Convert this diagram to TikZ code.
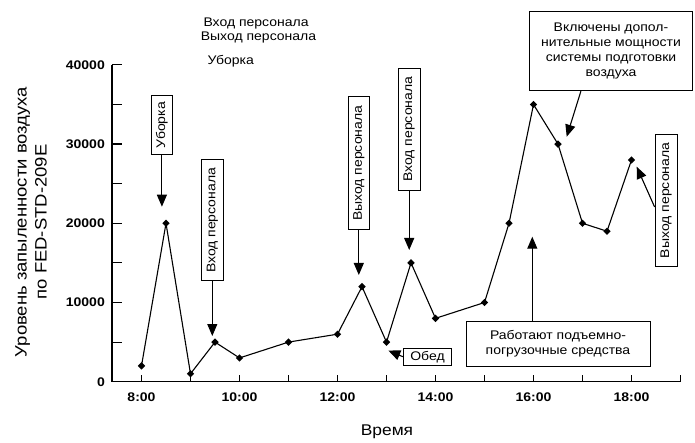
\documentclass[tikz,border=0pt]{standalone}
\usepackage{fontspec}
\setmainfont{Liberation Sans}[FakeStretch=1.12]
\usetikzlibrary{shapes.geometric,arrows.meta}
\tikzset{
  txt/.style={font=\fontsize{12.5}{15}\selectfont},
  vbox/.style={txt, draw, line width=0.9pt, fill=white, rotate=90, inner sep=0pt, minimum height=21.5pt},
  hbox/.style={txt, draw, line width=0.9pt, fill=white, align=center, inner sep=0pt},
  arr/.style={line width=1.1pt, -{Triangle[width=10pt,length=12pt]}},
  dpt/.style={diamond, fill=black, inner sep=0pt, minimum size=7.5pt},
  ticklbl/.style={font=\fontsize{12.5}{15}\selectfont\bfseries, inner sep=0pt}
}

\begin{document}
\begin{tikzpicture}[x=1pt, y=-1pt]
	\useasboundingbox (0,0) rectangle (695,443);
	% texte en haut
	\node[txt, anchor=base west] (lg1) at (200,26.7) {Вход персонала};
	\node[txt, anchor=base west] (lg2) at (197.3,40.7) {Выход персонала};
	\node[txt, anchor=base west] (lg3) at (204,65) {Уборка};
	% axes
	\node[font=\fontsize{16.5}{20}\selectfont, rotate=90, align=center] (ylab) at (31,222) {Уровень запыленности воздуха\\по FED-STD-209E};
	\node[font=\fontsize{15.5}{18}\selectfont] (xlab) at (387,432) {Время};
	\begin{scope}[shift={(141.5,381.7)}, x=49pt, y=7.92pt]
	\draw [line width=1.4pt] (-0.602,40) -- (-0.602,0) -- (11,0);
	\foreach \y in {5,10,...,40}
	\draw [line width=1.2pt] (-0.602,\y) -- ++(10pt,0);
	\foreach \x in {0,1,...,11}
	\draw [line width=1.2pt] (\x,0) -- ++(0,7pt);
	\foreach \y/\t in {0/0,10/10000,20/20000,30/30000,40/40000}
	\node[ticklbl, anchor=east, xshift=-7pt] at (-0.602,\y) {\t};
	\foreach \x/\t in {0/8:00,2/10:00,4/12:00,6/14:00,8/16:00,10/18:00}
	\node[ticklbl, anchor=north, yshift=-11pt] at (\x,0) {\t};
	% mesures
	\foreach \h/\v [count=\i] in {0/2,0.5/20,1/1,1.5/5,2/3,3/5,4/6,4.5/12,5/5,5.5/15,6/8,7/10,7.5/20,8/35,8.5/30,9/20,9.5/19,10/28}
	\node[dpt] (p\i) at (\h,\v) {};
	\draw [line width=1.1pt] (p1.center) \foreach \i in {2,...,18} {-- (p\i.center)};
	\end{scope}
	% annotations
	\node[vbox, minimum width=59pt] (b1) at (161.9,125.3) {Уборка};
	\coordinate (t1) at (161.9,206.7);
	\draw[arr] (b1.west) -- (t1);
	\node[vbox, minimum width=121pt] (b2) at (212.3,220.4) {Вход персонала};
	\coordinate (t2) at (212.3,336);
	\draw[arr] (b2.west) -- (t2);
	\node[vbox, minimum width=133pt] (b3) at (358.8,163.3) {Выход персонала};
	\coordinate (t3) at (358.8,275);
	\draw[arr] (b3.west) -- (t3);
	\node[vbox, minimum width=122pt] (b4) at (409.2,129.2) {Вход персонала};
	\coordinate (t4) at (409.2,250);
	\draw[arr] (b4.west) -- (t4);
	\node[hbox, minimum width=48.4pt, minimum height=17.5pt] (b5) at (427.5,356.7) {Обед};
	\coordinate (t5) at (388.3,350.5);
	\draw[arr] (b5.west) -- (t5);
	\node[hbox, minimum width=184pt, minimum height=44.3pt] (b6) at (558,343.9) {Работают подъемно-\\погрузочные средства};
	\coordinate (t6) at (532.3,236.7);
	\draw[arr] (t6 |- b6.north) -- (t6);
	\node[hbox, minimum width=163.7pt, minimum height=79pt] (b7) at (611,51.2) {Включены допол-\\нительные мощности\\системы подготовки\\воздуха};
	\coordinate (t7) at (566.7,136.7);
	\draw[arr] (b7.233) -- (t7);
	\node[vbox, minimum width=132.7pt, minimum height=22.3pt] (b8) at (666.2,200.4) {Выход персонала};
	\coordinate (h8) at (0,207);
	\coordinate (t8) at (636.7,166.7);
	\draw[arr] (b8.north |- h8) -- (t8);
\end{tikzpicture}
\end{document}
